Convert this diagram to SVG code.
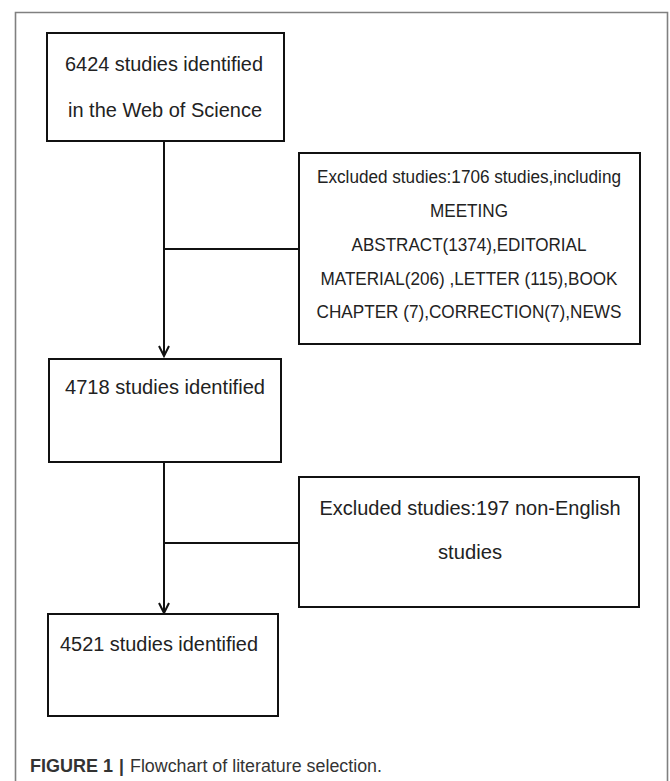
<svg xmlns="http://www.w3.org/2000/svg" width="670" height="781" viewBox="0 0 670 781">
<style>
.box{fill:#fff;stroke:#111;stroke-width:2}
.t{font-family:"Liberation Sans",Arial,sans-serif;font-size:19.5px;fill:#222;text-anchor:middle}
.s{font-family:"Liberation Sans",Arial,sans-serif;font-size:17.5px;fill:#222;text-anchor:middle}
.line{fill:none;stroke:#111;stroke-width:2}
.cap{font-family:"Liberation Sans",Arial,sans-serif;font-size:17.5px;fill:#333}
</style>
<defs>
<marker id="arr" markerUnits="userSpaceOnUse" markerWidth="14" markerHeight="14" viewBox="-7 -12 14 14" refX="0" refY="0" orient="auto-start-reverse" overflow="visible">
<path d="M-10,-5 L0,0 L-10,5" fill="none" stroke="#111" stroke-width="2"/>
</marker>
</defs>
<rect width="670" height="781" fill="#fff"/>
<path d="M15.5,790 L15.5,12.5 L667.5,12.5 L667.5,790" fill="none" stroke="#808080" stroke-width="1.6"/>
<g id="connectors">
<line class="line" x1="164" y1="141" x2="164" y2="356" marker-end="url(#arr)"/>
<line class="line" x1="164" y1="249" x2="299" y2="249"/>
<line class="line" x1="164" y1="462" x2="164" y2="613" marker-end="url(#arr)"/>
<line class="line" x1="164" y1="543" x2="299" y2="543"/>
</g>
<g id="node1">
<rect class="box" x="47" y="33" width="237" height="108"/>
<text class="t" x="164" y="71" textLength="198" lengthAdjust="spacingAndGlyphs">6424 studies identified</text>
<text class="t" x="165" y="117" textLength="194" lengthAdjust="spacingAndGlyphs">in the Web of Science</text>
</g>
<g id="node2">
<rect class="box" x="299" y="153" width="341" height="191"/>
<text class="s" x="469" y="183" textLength="304" lengthAdjust="spacingAndGlyphs">Excluded studies:1706 studies,including</text>
<text class="s" x="469" y="217" textLength="78" lengthAdjust="spacingAndGlyphs">MEETING</text>
<text class="s" x="469" y="251" textLength="235" lengthAdjust="spacingAndGlyphs">ABSTRACT(1374),EDITORIAL</text>
<text class="s" x="469" y="285" textLength="297" lengthAdjust="spacingAndGlyphs">MATERIAL(206) ,LETTER (115),BOOK</text>
<text class="s" x="469" y="318" textLength="305" lengthAdjust="spacingAndGlyphs">CHAPTER (7),CORRECTION(7),NEWS</text>
</g>
<g id="node3">
<rect class="box" x="49" y="359" width="232" height="103"/>
<text class="t" x="165" y="394" textLength="200" lengthAdjust="spacingAndGlyphs">4718 studies identified</text>
</g>
<g id="node4">
<rect class="box" x="299" y="477" width="340" height="130"/>
<text class="t" x="470" y="515" textLength="301" lengthAdjust="spacingAndGlyphs">Excluded studies:197 non-English</text>
<text class="t" x="470" y="559" textLength="64" lengthAdjust="spacingAndGlyphs">studies</text>
</g>
<g id="node5">
<rect class="box" x="48" y="614" width="230" height="102"/>
<text class="t" x="159" y="651" textLength="198" lengthAdjust="spacingAndGlyphs">4521 studies identified</text>
</g>
<g id="caption">
<text class="cap" x="30" y="772" font-weight="bold" fill="#222" textLength="83" lengthAdjust="spacingAndGlyphs">FIGURE 1</text>
<text class="cap" x="119" y="772" font-weight="bold" fill="#222">|</text>
<text class="cap" x="130" y="772" textLength="252" lengthAdjust="spacingAndGlyphs">Flowchart of literature selection.</text>
</g>
</svg>
